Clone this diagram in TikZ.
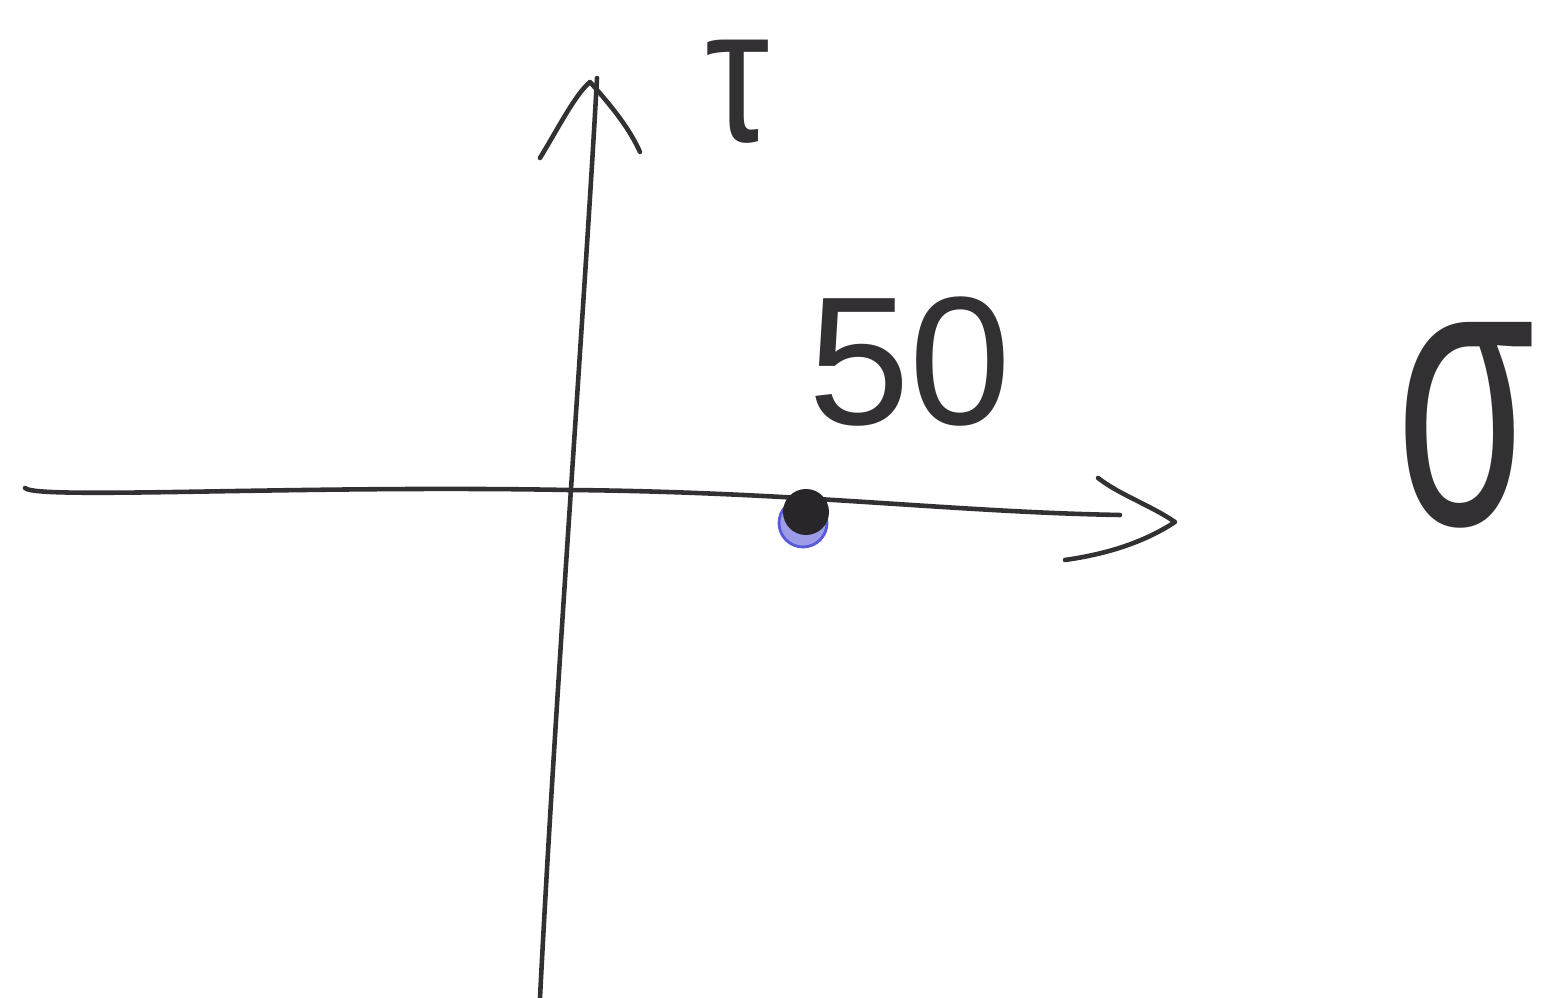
\documentclass[tikz,border=0pt]{standalone}
\usepackage{graphicx}
\usepackage{fontspec}
\newfontfamily\greekfont{Liberation Sans}
\newfontfamily\numfont{Liberation Sans}
\usetikzlibrary{calc}
\definecolor{ink}{HTML}{333033}
\definecolor{dotblue}{HTML}{5A5AD8}
\tikzset{
  pen/.style={draw=ink, line width=1.3pt, line cap=round, line join=round},
  lbl/.style={text=ink, inner sep=0pt},
}
\begin{document}
\begin{tikzpicture}[x=0.01cm,y=-0.01cm]
\useasboundingbox (0,0) rectangle (1545,998);
% axis ends
\coordinate (vbot) at (540,998);
\coordinate (vtop) at (597,78);
\coordinate (hleft) at (25,488);
\coordinate (hright) at (1120,515);
\coordinate (o) at (568,490);
% vertical axis
\draw[pen] (vbot) .. controls (555,700) and (585,300) .. (vtop);
\coordinate (va1) at (540,158);
\coordinate (va2) at (640,152);
\draw[pen] (va1) .. controls (560,125) and (575,95) .. (590,82) .. controls (615,110) and (630,130) .. (va2);
% horizontal axis
\draw[pen] (hleft) .. controls (35,500) and (300,485) .. (o) .. controls (800,492) and (950,512) .. (hright);
\coordinate (ha1) at (1098,478);
\coordinate (ha2) at (1065,560);
\draw[pen] (ha1) .. controls (1120,495) and (1150,505) .. (1175,522) .. controls (1140,545) and (1100,555) .. (ha2);
% point
\node[circle, fill=dotblue!60, draw=dotblue, line width=0.8pt, inner sep=0pt, minimum size=0.48cm] (dotb) at (803,523) {};
\node[circle, fill=ink!80!black, inner sep=0pt, minimum size=0.46cm] (dot) at (806,512) {};
% labels
\node[lbl, font=\fontsize{52}{56}\selectfont\numfont] (fifty) at (910,362) {50};
\node[lbl, anchor=base, text height=1.05cm, text depth=0pt, font=\fontsize{42}{44}\selectfont\greekfont] (tau) at (738,142) {\scalebox{1.1}[1.3]{τ}};
\node[lbl, font=\fontsize{64}{66}\selectfont\greekfont] (sigma) at (1466,425) {\scalebox{1}[1.7]{σ}};
\end{tikzpicture}
\end{document}
